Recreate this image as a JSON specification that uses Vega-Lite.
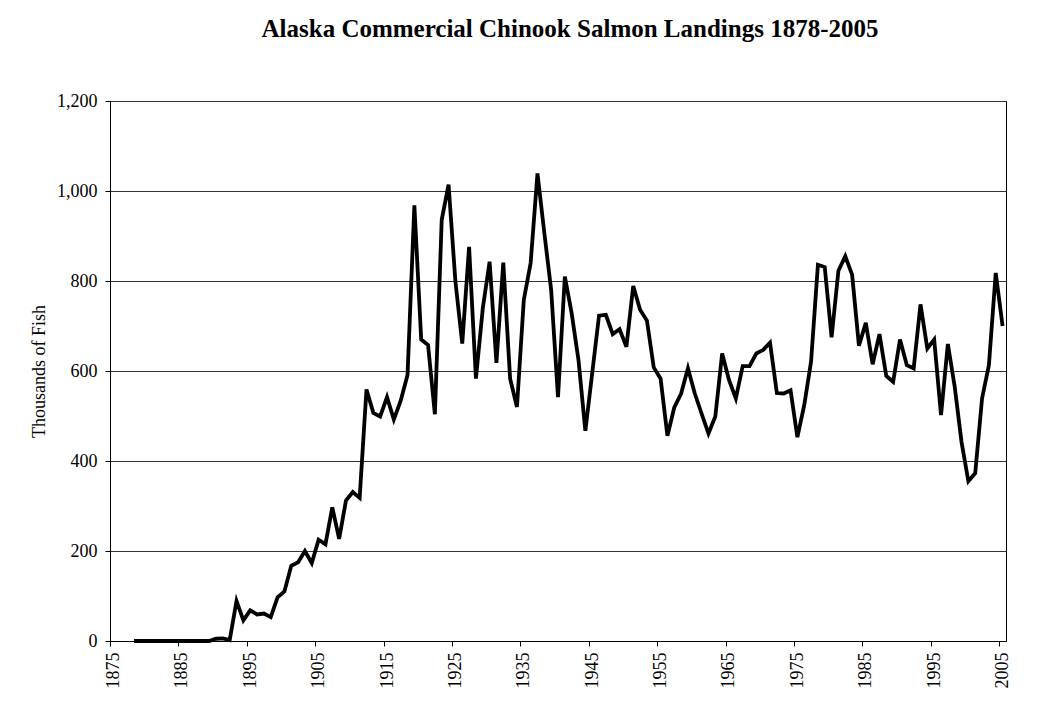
{
  "$schema": "https://vega.github.io/schema/vega-lite/v6.json",
  "width": 896,
  "height": 540,
  "autosize": {"type": "none"},
  "padding": {"left": 110, "top": 101, "right": 36, "bottom": 69},
  "background": "white",
  "title": {
    "text": "Alaska Commercial Chinook Salmon Landings 1878-2005",
    "font": "Liberation Serif",
    "fontSize": 25,
    "fontWeight": "bold",
    "color": "#000",
    "anchor": "middle",
    "dx": 12,
    "offset": 50
  },
  "config": {
    "view": {"stroke": "#000", "strokeWidth": 1},
    "font": "Liberation Serif"
  },
  "data": {
    "values": [
      {"year": 1878, "fish": 0}, {"year": 1879, "fish": 0}, {"year": 1880, "fish": 0}, {"year": 1881, "fish": 0},
      {"year": 1882, "fish": 0}, {"year": 1883, "fish": 0}, {"year": 1884, "fish": 0}, {"year": 1885, "fish": 0},
      {"year": 1886, "fish": 0}, {"year": 1887, "fish": 0}, {"year": 1888, "fish": 0}, {"year": 1889, "fish": 0},
      {"year": 1890, "fish": 5}, {"year": 1891, "fish": 6}, {"year": 1892, "fish": 2}, {"year": 1893, "fish": 89},
      {"year": 1894, "fish": 46}, {"year": 1895, "fish": 68}, {"year": 1896, "fish": 59}, {"year": 1897, "fish": 61},
      {"year": 1898, "fish": 53}, {"year": 1899, "fish": 97}, {"year": 1900, "fish": 110}, {"year": 1901, "fish": 167},
      {"year": 1902, "fish": 175}, {"year": 1903, "fish": 200}, {"year": 1904, "fish": 173}, {"year": 1905, "fish": 225},
      {"year": 1906, "fish": 215}, {"year": 1907, "fish": 297}, {"year": 1908, "fish": 227}, {"year": 1909, "fish": 312},
      {"year": 1910, "fish": 331}, {"year": 1911, "fish": 318}, {"year": 1912, "fish": 559}, {"year": 1913, "fish": 507},
      {"year": 1914, "fish": 499}, {"year": 1915, "fish": 542}, {"year": 1916, "fish": 492}, {"year": 1917, "fish": 534},
      {"year": 1918, "fish": 591}, {"year": 1919, "fish": 968}, {"year": 1920, "fish": 670}, {"year": 1921, "fish": 658},
      {"year": 1922, "fish": 504}, {"year": 1923, "fish": 936}, {"year": 1924, "fish": 1014}, {"year": 1925, "fish": 799},
      {"year": 1926, "fish": 661}, {"year": 1927, "fish": 876}, {"year": 1928, "fish": 583}, {"year": 1929, "fish": 739},
      {"year": 1930, "fish": 843}, {"year": 1931, "fish": 618}, {"year": 1932, "fish": 841}, {"year": 1933, "fish": 583},
      {"year": 1934, "fish": 520}, {"year": 1935, "fish": 758}, {"year": 1936, "fish": 840}, {"year": 1937, "fish": 1039},
      {"year": 1938, "fish": 907}, {"year": 1939, "fish": 780}, {"year": 1940, "fish": 542}, {"year": 1941, "fish": 810},
      {"year": 1942, "fish": 728}, {"year": 1943, "fish": 624}, {"year": 1944, "fish": 467}, {"year": 1945, "fish": 595},
      {"year": 1946, "fish": 723}, {"year": 1947, "fish": 725}, {"year": 1948, "fish": 682}, {"year": 1949, "fish": 693},
      {"year": 1950, "fish": 654}, {"year": 1951, "fish": 789}, {"year": 1952, "fish": 736}, {"year": 1953, "fish": 712},
      {"year": 1954, "fish": 608}, {"year": 1955, "fish": 583}, {"year": 1956, "fish": 456}, {"year": 1957, "fish": 519},
      {"year": 1958, "fish": 550}, {"year": 1959, "fish": 606}, {"year": 1960, "fish": 550}, {"year": 1961, "fish": 505},
      {"year": 1962, "fish": 461}, {"year": 1963, "fish": 499}, {"year": 1964, "fish": 639}, {"year": 1965, "fish": 580},
      {"year": 1966, "fish": 539}, {"year": 1967, "fish": 611}, {"year": 1968, "fish": 611}, {"year": 1969, "fish": 639},
      {"year": 1970, "fish": 647}, {"year": 1971, "fish": 663}, {"year": 1972, "fish": 551}, {"year": 1973, "fish": 550},
      {"year": 1974, "fish": 557}, {"year": 1975, "fish": 453}, {"year": 1976, "fish": 524}, {"year": 1977, "fish": 621},
      {"year": 1978, "fish": 836}, {"year": 1979, "fish": 831}, {"year": 1980, "fish": 675}, {"year": 1981, "fish": 823},
      {"year": 1982, "fish": 855}, {"year": 1983, "fish": 814}, {"year": 1984, "fish": 656}, {"year": 1985, "fish": 707},
      {"year": 1986, "fish": 615}, {"year": 1987, "fish": 682}, {"year": 1988, "fish": 589}, {"year": 1989, "fish": 576},
      {"year": 1990, "fish": 670}, {"year": 1991, "fish": 613}, {"year": 1992, "fish": 606}, {"year": 1993, "fish": 748},
      {"year": 1994, "fish": 650}, {"year": 1995, "fish": 670}, {"year": 1996, "fish": 502}, {"year": 1997, "fish": 660},
      {"year": 1998, "fish": 565}, {"year": 1999, "fish": 442}, {"year": 2000, "fish": 355}, {"year": 2001, "fish": 373},
      {"year": 2002, "fish": 539}, {"year": 2003, "fish": 613}, {"year": 2004, "fish": 818}, {"year": 2005, "fish": 700}
    ]
  },
  "mark": {"type": "line", "color": "#000", "strokeWidth": 3.8, "strokeJoin": "miter"},
  "encoding": {
    "x": {
      "field": "year",
      "type": "quantitative",
      "scale": {"domain": [1874.5, 2005.5], "nice": false, "zero": false},
      "axis": {
        "title": null,
        "values": [1875, 1885, 1895, 1905, 1915, 1925, 1935, 1945, 1955, 1965, 1975, 1985, 1995, 2005],
        "format": "d",
        "labelAngle": 270,
        "labelFont": "Liberation Serif",
        "labelFontSize": 18,
        "labelColor": "#000",
        "labelPadding": 6,
        "labelFlush": false,
        "labelOverlap": false,
        "tickOffset": -3.4,
        "labelOffset": 3.4,
        "tickSize": 5,
        "tickColor": "#000",
        "domainColor": "#000",
        "grid": false
      }
    },
    "y": {
      "field": "fish",
      "type": "quantitative",
      "scale": {"domain": [0, 1200], "nice": false},
      "axis": {
        "title": "Thousands of Fish",
        "titleFont": "Liberation Serif",
        "titleFontSize": 18,
        "titleFontWeight": "normal",
        "titleColor": "#000",
        "titlePadding": 8,
        "values": [0, 200, 400, 600, 800, 1000, 1200],
        "format": ",d",
        "labelFont": "Liberation Serif",
        "labelFontSize": 18,
        "labelColor": "#000",
        "labelPadding": 8,
        "labelFlush": false,
        "tickSize": 5,
        "tickColor": "#000",
        "domainColor": "#000",
        "grid": true,
        "gridColor": "#333",
        "gridWidth": 1
      }
    }
  }
}
